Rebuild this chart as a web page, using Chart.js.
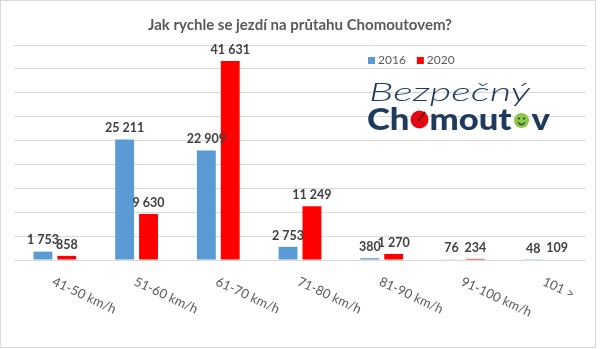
<!DOCTYPE html>
<html>
<head>
<meta charset="utf-8">
<script src="https://cdn.jsdelivr.net/npm/chart.js@4.4.0/dist/chart.umd.min.js"></script>
<style>
  html, body { margin: 0; padding: 0; background: #fff; }
  canvas { display: block; }
</style>
</head>
<body>
<canvas id="myChart" width="600" height="349"></canvas>
<script>
// speed bands and counted vehicles per year
var categories = ['41-50 km/h', '51-60 km/h', '61-70 km/h', '71-80 km/h', '81-90 km/h', '91-100 km/h', '101 >'];
var years = ['2016', '2020'];
var sales2016 = [1753, 25211, 22909, 2753, 380, 76, 48];
var sales2020 = [858, 9630, 41631, 11249, 1270, 234, 109];
var colors = ['#5b9bd5', '#ff0000'];

var FONT = 'Lato, "Open Sans", sans-serif';

function formatNumber(v) {
    return String(v).replace(/\B(?=(\d{3})+(?!\d))/g, ' ');
}

// white background + thin frame round the picture
var framePlugin = {
    id: 'frame',
    beforeDraw: function(chart) {
        var ctx = chart.ctx;
        ctx.save();
        ctx.fillStyle = '#fff';
        ctx.fillRect(0, 0, chart.width, chart.height);
        ctx.strokeStyle = '#d9d9d9';
        ctx.lineWidth = 1;
        ctx.strokeRect(0.5, 0.5, 595, 347);
        ctx.restore();
    }
};

// numbers above each bar
var valuesPlugin = {
    id: 'barValues',
    afterDatasetsDraw: function(chart) {
        var ctx = chart.ctx;
        ctx.save();
        ctx.font = 'bold 12.5px ' + FONT;
        ctx.fillStyle = '#404040';
        ctx.textAlign = 'center';
        ctx.textBaseline = 'bottom';
        chart.data.datasets.forEach(function(ds, i) {
            var meta = chart.getDatasetMeta(i);
            meta.data.forEach(function(bar, j) {
                ctx.fillText(formatNumber(ds.data[j]), bar.x, bar.y - 5);
            });
        });
        ctx.restore();
    }
};

// slanted category labels, starting at the tick and running down-right
var xLabelsPlugin = {
    id: 'slantedLabels',
    afterDraw: function(chart) {
        var ctx = chart.ctx;
        var xScale = chart.scales.x;
        ctx.save();
        ctx.font = '13px ' + FONT;
        ctx.fillStyle = '#595959';
        ctx.textAlign = 'left';
        ctx.textBaseline = 'top';
        chart.data.labels.forEach(function(label, i) {
            var x = xScale.getPixelForValue(i);
            ctx.save();
            ctx.translate(x + 1, 275);
            ctx.rotate(25 * Math.PI / 180);
            ctx.fillText(label, 0, 0);
            ctx.restore();
        });
        ctx.restore();
    }
};

// small legend inside the plot, top right
var legendPlugin = {
    id: 'boxLegend',
    afterDraw: function(chart) {
        var ctx = chart.ctx;
        ctx.save();
        ctx.font = '12px ' + FONT;
        ctx.textBaseline = 'middle';
        ctx.textAlign = 'left';
        var x = 368, y = 60.5;
        chart.data.datasets.forEach(function(ds) {
            ctx.fillStyle = ds.backgroundColor;
            ctx.fillRect(x, y - 3.5, 7, 7);
            ctx.fillStyle = '#595959';
            ctx.fillText(ds.label, x + 10, y);
            x += 10 + ctx.measureText(ds.label).width + 11;
        });
        ctx.restore();
    }
};

// "Bezpečný Chomoutov" wordmark
var logoPlugin = {
    id: 'logo',
    afterDraw: function(chart) {
        var ctx = chart.ctx;
        var navy = '#1e3b5e';
        ctx.save();

        // upper word, thin italic, stretched to its width
        ctx.font = 'italic 300 25px ' + FONT;
        ctx.fillStyle = navy;
        ctx.textBaseline = 'alphabetic';
        var w1 = ctx.measureText('Bezpečný').width;
        ctx.save();
        ctx.translate(369, 101);
        ctx.scale(161 / w1, 1);
        ctx.fillText('Bezpečný', 0, 0);
        ctx.restore();

        // lower word, heavy, two of the o's drawn as discs
        ctx.font = '900 30px ' + FONT;
        var parts = ['Ch', 'o', 'mout', 'o', 'v'];
        var widths = parts.map(function(p) { return ctx.measureText(p).width; });
        var total = widths.reduce(function(a, b) { return a + b; }, 0);
        var s = 183 / total;
        var x0 = 367, base = 130;
        var xs = [];
        var acc = 0;
        widths.forEach(function(w) { xs.push(x0 + acc * s); acc += w; });

        ctx.save();
        ctx.translate(x0, base);
        ctx.scale(s, 1);
        ctx.fillStyle = navy;
        acc = 0;
        parts.forEach(function(p, i) {
            if (i !== 1 && i !== 3) ctx.fillText(p, acc, 0);
            acc += widths[i];
        });
        ctx.restore();

        // red speedometer disc
        var cx = xs[1] + widths[1] * s / 2, cy = 119.5, r = 9;
        ctx.fillStyle = '#e30613';
        ctx.beginPath();
        ctx.arc(cx, cy, r, 0, Math.PI * 2);
        ctx.fill();
        ctx.strokeStyle = '#7a0a10';
        ctx.lineWidth = 2;
        ctx.lineCap = 'round';
        ctx.beginPath();
        ctx.moveTo(cx - 1, cy + 1);
        ctx.lineTo(cx + 5, cy - 7);
        ctx.stroke();

        // green smiley
        var gx = xs[3] + widths[3] * s / 2, gy = 120.5, gr = 7.5;
        ctx.fillStyle = '#8dc63f';
        ctx.beginPath();
        ctx.arc(gx, gy, gr, 0, Math.PI * 2);
        ctx.fill();
        ctx.fillStyle = '#1e3b5e';
        ctx.beginPath();
        ctx.arc(gx - 2.6, gy - 2, 1.1, 0, Math.PI * 2);
        ctx.arc(gx + 2.6, gy - 2, 1.1, 0, Math.PI * 2);
        ctx.fill();
        ctx.strokeStyle = '#1e3b5e';
        ctx.lineWidth = 1.2;
        ctx.beginPath();
        ctx.arc(gx, gy + 0.5, 3.5, 0.15 * Math.PI, 0.85 * Math.PI);
        ctx.stroke();

        ctx.restore();
    }
};

var ctx = document.getElementById('myChart');
var myChart = new Chart(ctx, {
    type: 'bar',
    data: {
        labels: categories,
        datasets: [{
            label: years[0],
            data: sales2016,
            backgroundColor: colors[0],
            categoryPercentage: 0.585,
            barPercentage: 0.79
        }, {
            label: years[1],
            data: sales2020,
            backgroundColor: colors[1],
            categoryPercentage: 0.585,
            barPercentage: 0.79
        }]
    },
    options: {
        responsive: false,
        animation: false,
        layout: {
            padding: { left: 14, right: 14, top: 0, bottom: 89 }
        },
        plugins: {
            legend: { display: false },
            tooltip: { enabled: false },
            title: {
                display: true,
                text: 'Jak rychle se jezdí na průtahu Chomoutovem?',
                color: '#595959',
                font: { family: FONT, size: 15, weight: 'bold' },
                padding: { top: 16, bottom: 11 }
            }
        },
        scales: {
            x: {
                grid: { display: false, drawTicks: false },
                border: { display: false },
                ticks: { display: false }
            },
            y: {
                min: 0,
                max: 45000,
                ticks: { display: false, stepSize: 5000 },
                grid: { color: '#d9d9d9', drawTicks: false },
                border: { display: false }
            }
        }
    },
    plugins: [framePlugin, valuesPlugin, xLabelsPlugin, legendPlugin, logoPlugin]
});
</script>
</body>
</html>
